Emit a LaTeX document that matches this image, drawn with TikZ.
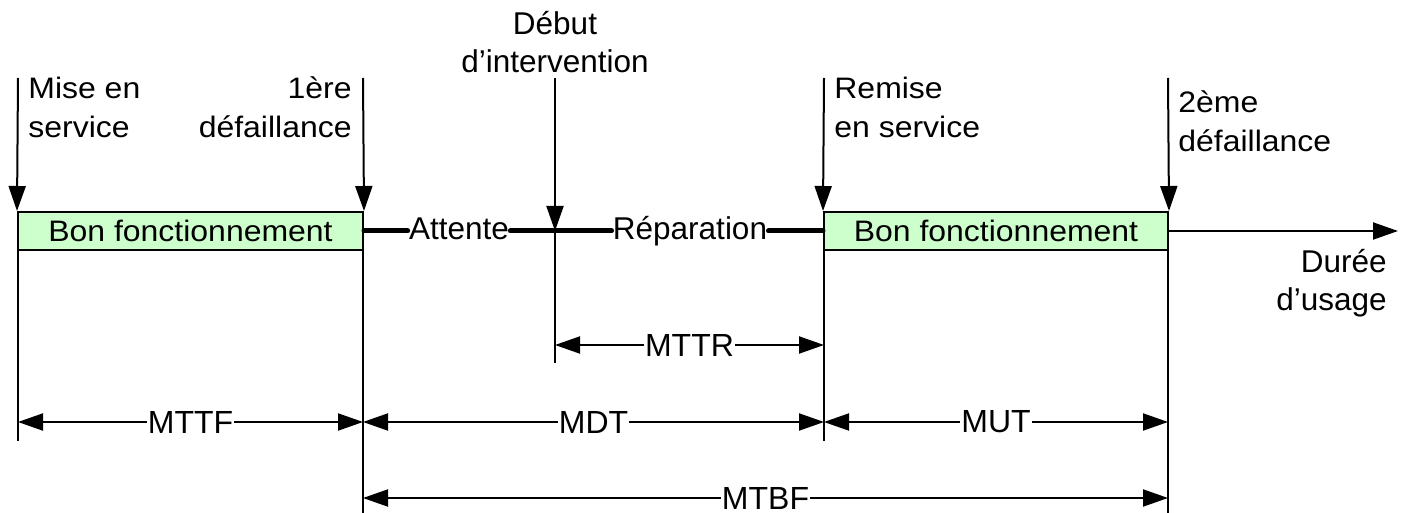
\documentclass[tikz,border=0pt]{standalone}
\usepackage{fontspec}
\setmainfont{Liberation Sans}
\newfontfamily\widefont[FakeStretch=1.08]{Liberation Sans}
\usetikzlibrary{arrows.meta}
\definecolor{boxgreen}{RGB}{204,255,204}
\begin{document}
\begin{tikzpicture}[x=0.5pt,y=-0.5pt,
  rule/.style={line width=1pt},
  tipdown/.style={rule,-{Triangle[length=12.5pt,width=8.5pt]}},
  dim/.style={rule,{Triangle[length=12.5pt,width=8.5pt]}-{Triangle[length=12.5pt,width=8.5pt]}},
  txt/.style={font=\fontsize{15.75}{19.25}\selectfont, inner sep=0pt},
  wtxt/.style={font=\widefont\fontsize{14.8}{19.5}\selectfont, inner sep=0pt},
  lab/.style={font=\fontsize{16}{19}\selectfont, fill=white, inner xsep=0.5pt, inner ysep=2pt},
  okbox/.style={draw, line width=1pt, fill=boxgreen, minimum height=19pt, inner sep=0pt, font=\widefont\fontsize{14.8}{16}\selectfont},
  phase/.style={font=\fontsize{15.75}{19}\selectfont, inner xsep=0.5pt, inner ysep=0pt},
  heavy/.style={line width=2.5pt, line cap=round}
]
\useasboundingbox (0,0) rectangle (1408,513);

% vertical time marks
\coordinate (a0) at (18,78);    \coordinate (z0) at (18,441);
\coordinate (a1) at (363,78);   \coordinate (z1) at (363,513);
\coordinate (a2) at (555,78);   \coordinate (z2) at (555,363);
\coordinate (a3) at (824,78);   \coordinate (z3) at (824,441);
\coordinate (a4) at (1168,78);  \coordinate (z4) at (1168,513);

\draw[rule] (18,212) -- (z0);
\draw[rule] (363,212) -- (z1);
\draw[rule] (555,230) -- (z2);
\draw[rule] (824,212) -- (z3);
\draw[rule] (1168,212) -- (z4);

% boxes
\node[okbox, minimum width=172.5pt] (b1) at (190.5,231) {Bon fonctionnement};
\node[okbox, minimum width=172pt] (b2) at (996,231) {Bon fonctionnement};

% arrows down
\draw[tipdown] (a0) -- (b1.north west);
\draw[tipdown] (a1) -- (b1.north east);
\draw[tipdown] (a3) -- (b2.north west);
\draw[tipdown] (a4) -- (b2.north east);
\coordinate (j) at (555,231);
\draw[tipdown] (a2) -- (j);

% phases
\node[phase, anchor=base] (att) at (459,240) {Attente};
\node[phase, anchor=base] (rep) at (690,240) {Réparation};
\draw[heavy] (b1.east) -- (att.west |- b1.east);
\draw[heavy] (att.east |- b1.east) -- (rep.west |- b1.east);
\draw[heavy] (rep.east |- b1.east) -- (b2.west);

% time axis
\coordinate (end) at (1398,231);
\draw[tipdown] (b2.east) -- (end);

% event labels (anchor on last baseline)
\node[wtxt, align=left, anchor=base west] (ms) at (28,138) {Mise en\\service};
\node[wtxt, align=right, anchor=base east] (d1) at (352,138) {1ère\\défaillance};
\node[txt, align=center, anchor=base] (deb) at (555,73) {Début\\d’intervention};
\node[wtxt, align=left, anchor=base west] (rs) at (834,138) {Remise\\en service};
\node[wtxt, align=left, anchor=base west] (d2) at (1178,152) {2ème\\défaillance};
\node[txt, align=right, anchor=base east] (du) at (1387,311) {Durée\\d’usage};

% dimension arrows
\coordinate (r1) at (555,345);  \coordinate (r2) at (824,345);
\coordinate (f1) at (18,422);   \coordinate (f2) at (363,422);
\coordinate (f3) at (824,422);  \coordinate (f4) at (1168,422);
\coordinate (g1) at (363,498);  \coordinate (g2) at (1168,498);
\draw[dim] (r1) -- (r2) node[lab, midway] (mttr) {MTTR};
\draw[dim] (f1) -- (f2) node[lab, midway] (mttf) {MTTF};
\draw[dim] (f2) -- (f3) node[lab, midway] (mdt) {MDT};
\draw[dim] (f3) -- (f4) node[lab, midway] (mut) {MUT};
\draw[dim] (g1) -- (g2) node[lab, midway] (mtbf) {MTBF};
\end{tikzpicture}
\end{document}
